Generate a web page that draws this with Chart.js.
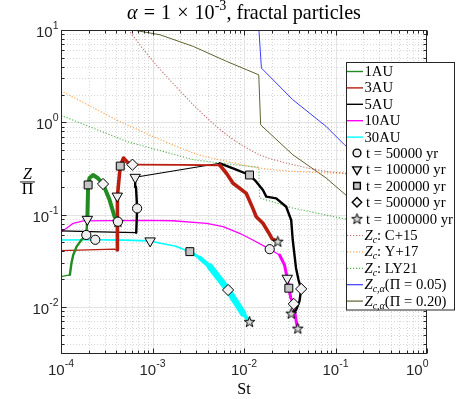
<!DOCTYPE html>
<html><head><meta charset="utf-8">
<script src="https://cdn.jsdelivr.net/npm/chart.js@4.4.1/dist/chart.umd.min.js"></script>
<style>html,body{margin:0;padding:0;background:#fff;overflow:hidden}canvas{display:block}</style>
</head><body>
<canvas id="c" width="471" height="399"></canvas>
<script>
// ---------------- data ----------------
const xTickVals = [1e-4, 1e-3, 1e-2, 1e-1, 1];
const xTickExps = ['-4', '-3', '-2', '-1', '0'];
const yTickVals = [1e-2, 1e-1, 1, 10];
const yTickExps = ['-2', '-1', '0', '1'];

const titleText = ['α', '=', '1', '×', '10', '-3', ', fractal particles'];
const xLabel = 'St';

const seriesNames = ['1AU', '3AU', '5AU', '10AU', '30AU'];
const st1AU = [1.0e-4, 1.25e-4, 1.30e-4, 1.36e-4, 1.48e-4, 1.67e-4, 1.82e-4, 1.89e-4, 1.94e-4, 1.98e-4, 2.05e-4, 2.24e-4, 2.54e-4, 2.88e-4, 3.40e-4, 3.85e-4, 4.19e-4];
const z1AU  = [0.0213, 0.0223, 0.0298, 0.0366, 0.0451, 0.0532, 0.0578, 0.0603, 0.0891, 0.210, 0.25, 0.269, 0.248, 0.215, 0.144, 0.0951, 0.0840];
const st3AU = [1.0e-4, 3.82e-4, 4.12e-4, 4.15e-4, 4.12e-4, 4.44e-4, 4.82e-4, 5.3e-4, 6.04e-4, 2.0e-3, 5.45e-3, 6.43e-3, 7.59e-3, 1.06e-2, 1.25e-2, 1.36e-2, 1.61e-2, 1.84e-2, 2.03e-2, 2.34e-2];
const z3AU  = [0.0408, 0.0423, 0.0415, 0.084, 0.159, 0.336, 0.411, 0.37, 0.348, 0.347, 0.343, 0.281, 0.219, 0.170, 0.117, 0.0951, 0.0807, 0.065, 0.0546, 0.0515];
const st5AU = [1.0e-4, 2.69e-4, 6.64e-4, 6.79e-4, 6.6e-4, 6.47e-4, 5.45e-3, 7.59e-3, 1.15e-2, 1.36e-2, 1.61e-2, 1.75e-2, 2.25e-2, 2.89e-2, 3.28e-2, 3.41e-2, 3.70e-2, 3.94e-2, 4.22e-2, 4.04e-2, 3.72e-2, 3.28e-2];
const z5AU  = [0.0667, 0.065, 0.0638, 0.117, 0.2, 0.254, 0.360, 0.318, 0.269, 0.228, 0.185, 0.157, 0.150, 0.122, 0.0874, 0.0532, 0.0265, 0.0197, 0.0157, 0.0116, 0.0093, 0.00857];
const st10AU = [1.0e-4, 1.15e-4, 1.36e-4, 1.75e-4, 8.51e-4, 1.67e-3, 3.90e-3, 5.91e-3, 8.97e-3, 1.25e-2, 1.91e-2, 2.45e-2, 2.77e-2, 2.97e-2, 3.09e-2, 3.25e-2, 3.50e-2, 3.72e-2, 3.87e-2];
const z10AU  = [0.065, 0.0713, 0.0807, 0.0855, 0.0869, 0.0860, 0.0807, 0.0741, 0.0629, 0.0532, 0.0423, 0.0366, 0.0286, 0.0205, 0.016, 0.0125, 0.0108, 0.00695, 0.0059];
const st30AU = [1.0e-4, 2.37e-4, 5e-4, 9.42e-4, 1.22e-3, 1.76e-3, 2.56e-3, 3.30e-3, 4.24e-3, 6.70e-3, 9.75e-3, 1.15e-2];
const z30AU  = [0.0532, 0.0535, 0.053, 0.052, 0.049, 0.0458, 0.0398, 0.034, 0.0274, 0.0153, 0.00857, 0.00695];

// snapshot markers, one value per series (1AU, 3AU, 5AU, 10AU, 30AU)
const markerLabels = ['t = 50000 yr', 't = 100000 yr', 't = 200000 yr', 't = 500000 yr', 't = 1000000 yr'];
const t50kSt  = [1.89e-4, 4.19e-4, 6.79e-4, 1.91e-2, 2.37e-4];
const t50kZ   = [0.0603, 0.084, 0.117, 0.0423, 0.0535];
const t100kSt = [1.94e-4, 4.12e-4, 6.47e-4, 2.97e-2, 9.42e-4];
const t100kZ  = [0.0891, 0.159, 0.254, 0.0205, 0.052];
const t200kSt = [1.98e-4, 4.44e-4, 1.15e-2, 3.09e-2, 2.56e-3];
const t200kZ  = [0.210, 0.336, 0.269, 0.016, 0.0398];
const t500kSt = [2.88e-4, 6.04e-4, 4.22e-2, 3.50e-2, 6.70e-3];
const t500kZ  = [0.215, 0.348, 0.0157, 0.0108, 0.0153];
const t1MSt   = [4.19e-4, 2.34e-2, 3.28e-2, 3.87e-2, 1.15e-2];
const t1MZ    = [0.084, 0.0515, 0.00857, 0.0059, 0.00695];

// reference curves
const refLabels = ['Z_{c}: C+15', 'Z_{c}: Y+17', 'Z_{c}: LY21', 'Z_{c,α}(Π = 0.05)', 'Z_{c,α}(Π = 0.20)'];
const stC15 = [5.46e-4, 1.02e-3, 2.79e-3, 6.46e-3, 1.48e-2, 3.41e-2, 7.88e-2, 0.141, 1];
const zC15  = [10, 4.57, 1.55, 0.734, 0.446, 0.348, 0.295, 0.278, 0.22];
const stY17 = [1e-4, 2.28e-4, 5.25e-4, 2.79e-3, 6.46e-3, 1.48e-2, 3.41e-2, 0.141, 1];
const zY17  = [2.2, 1.43, 0.94, 0.466, 0.378, 0.32, 0.295, 0.278, 0.26];
const stLY21 = [1e-4, 5.25e-4, 2.79e-3, 5.45e-3, 1.45e-2, 1.48e-2, 3.41e-2, 0.141, 1];
const zLY21  = [1.19, 0.62, 0.394, 0.363, 0.326, 0.152, 0.118, 0.088, 0.068];
const stPi05 = [1.456e-2, 1.55e-2, 3.41e-2, 7.88e-2, 0.125, 1];
const zPi05  = [10, 3.87, 1.76, 0.905, 0.573, 0.1];
const stPi20 = [6.15e-4, 1.21e-3, 2.79e-3, 6.46e-3, 1.45e-2, 1.52e-2, 3.41e-2, 7.88e-2, 0.141, 1];
const zPi20  = [10, 8.87, 6.64, 4.57, 3.27, 0.94, 0.446, 0.25, 0.152, 0.03];

// ---------------- styling ----------------
const SERIF = '"Liberation Serif", "DejaVu Serif", serif';
const SANS = '"Liberation Sans", Arial, sans-serif';
const AXIS = '#262626';
const pts = (xs, ys) => xs.map((v, i) => ({x: v, y: ys[i]}));
function widths(runs) { // runs: [[fromIndex, width], ...]
  return c => { let w = runs[0][1]; for (const r of runs) if (c.p0DataIndex >= r[0]) w = r[1]; return w; };
}
function makeStar(R, fill) {
  const s = Math.ceil(2 * R + 3), c = document.createElement('canvas');
  c.width = c.height = s;
  const g = c.getContext('2d');
  g.translate(s / 2, s / 2 + 0.6);
  g.beginPath();
  for (let k = 0; k < 10; k++) {
    const a = -Math.PI / 2 + k * Math.PI / 5, r = k % 2 ? R * 0.4 : R;
    k ? g.lineTo(r * Math.cos(a), r * Math.sin(a)) : g.moveTo(r * Math.cos(a), r * Math.sin(a));
  }
  g.closePath(); g.fillStyle = fill; g.fill(); g.lineWidth = 1; g.strokeStyle = '#000'; g.stroke();
  return c;
}
const starImg = makeStar(5.6, '#d8d8d8');

const mainStyle = [
  {color: '#228b22', w: widths([[0, 1.2], [1, 2.4], [8, 4]])},
  {color: '#b81e10', w: widths([[0, 1.2], [2, 3.6], [8, 1.8], [10, 3.6]])},
  {color: '#000000', w: widths([[0, 1.2], [2, 2.4], [5, 1.1], [6, 2.4]])},
  {color: '#ff00ff', w: widths([[0, 1.3], [11, 3]])},
  {color: '#00ffff', w: widths([[0, 1.6], [6, 3], [7, 4.5], [8, 6.5], [10, 4]])}
];
const mainData = [[st1AU, z1AU], [st3AU, z3AU], [st5AU, z5AU], [st10AU, z10AU], [st30AU, z30AU]];

const markerStyle = [
  {pointStyle: 'circle', radius: 4.6, fill: '#eeeeee', rot: 0},
  {pointStyle: 'triangle', radius: 6, fill: '#eeeeee', rot: 180},
  {pointStyle: 'rect', radius: 5.6, fill: '#c4c4c4', rot: 0},
  {pointStyle: 'rectRot', radius: 5.6, fill: '#f2f2f2', rot: 0},
  {pointStyle: starImg, radius: 5.6, fill: '#d8d8d8', rot: 0}
];
const markerData = [[t50kSt, t50kZ], [t100kSt, t100kZ], [t200kSt, t200kZ], [t500kSt, t500kZ], [t1MSt, t1MZ]];

const refStyle = [
  {color: 'rgba(170,60,50,0.75)', dash: [1.2, 1.8], w: 1.1, tension: 0.3},
  {color: 'rgba(255,145,40,0.8)', dash: [1.2, 1.8], w: 1.2, tension: 0.3},
  {color: 'rgba(40,160,40,0.8)', dash: [1.2, 1.8], w: 1.1, tension: 0},
  {color: 'rgb(60,60,255)', dash: [], w: 1, tension: 0},
  {color: 'rgb(96,96,48)', dash: [], w: 1, tension: 0}
];
const refData = [[stC15, zC15], [stY17, zY17], [stLY21, zLY21], [stPi05, zPi05], [stPi20, zPi20]];

const datasets = [];
seriesNames.forEach((n, i) => datasets.push({
  label: n, kind: 'line', data: pts(mainData[i][0], mainData[i][1]), borderColor: mainStyle[i].color,
  borderWidth: 1.5, segment: {borderWidth: mainStyle[i].w}, pointRadius: 0, tension: 0,
  borderJoinStyle: 'round', borderCapStyle: 'round', order: 1, legendW: 1.4
}));
markerLabels.forEach((n, i) => datasets.push({
  label: n, kind: 'marker', data: pts(markerData[i][0], markerData[i][1]), showLine: false,
  pointStyle: markerStyle[i].pointStyle, pointRadius: markerStyle[i].radius, pointRotation: markerStyle[i].rot,
  pointBackgroundColor: markerStyle[i].fill, pointBorderColor: '#000', pointBorderWidth: 1, order: 0
}));
refLabels.forEach((n, i) => datasets.push({
  label: n, kind: 'ref', data: pts(refData[i][0], refData[i][1]), borderColor: refStyle[i].color,
  borderWidth: refStyle[i].w, borderDash: refStyle[i].dash, pointRadius: 0,
  tension: refStyle[i].tension, order: 2, legendW: 1.2
}));

// ---------------- drawing helpers ----------------
function richParts(label, size) {
  const m = label.match(/^Z_\{([^}]*)\}(.*)$/);
  if (!m) return [{t: label, font: `${size}px ${SERIF}`}];
  return [
    {t: 'Z', font: `italic ${size}px ${SERIF}`},
    {t: m[1], font: `italic ${Math.round(size * 0.7)}px ${SERIF}`, dy: 3},
    {t: m[2], font: `${size}px ${SERIF}`}
  ];
}
function partsWidth(ctx, parts) {
  let w = 0; for (const p of parts) { ctx.font = p.font; w += ctx.measureText(p.t).width + (p.gap || 0); } return w;
}
function drawParts(ctx, parts, x, y, align) {
  const w = partsWidth(ctx, parts);
  let cx = align === 'center' ? x - w / 2 : align === 'right' ? x - w : x;
  ctx.textAlign = 'left';
  for (const p of parts) { ctx.font = p.font; ctx.fillText(p.t, cx, y + (p.dy || 0)); cx += ctx.measureText(p.t).width + (p.gap || 0); }
}
function fitSize(ctx, makeParts, target, base) {
  return base * target / partsWidth(ctx, makeParts(base));
}

const framePlugin = {
  id: 'frame',
  beforeDatasetsDraw(chart) {
    const {ctx, chartArea: a, scales: {x, y}} = chart;
    ctx.save();
    ctx.lineWidth = 1;
    // minor grid
    ctx.strokeStyle = '#d6d6d6'; ctx.setLineDash([1, 2]);
    for (let e = -4; e < 0; e++) for (let m = 2; m <= 9; m++) {
      const px = Math.round(x.getPixelForValue(m * 10 ** e)) + 0.5;
      ctx.beginPath(); ctx.moveTo(px, a.top); ctx.lineTo(px, a.bottom); ctx.stroke();
    }
    for (let e = -3; e < 1; e++) for (let m = 2; m <= 9; m++) {
      const v = m * 10 ** e; if (v <= y.min || v >= y.max) continue;
      const py = Math.round(y.getPixelForValue(v)) + 0.5;
      ctx.beginPath(); ctx.moveTo(a.left, py); ctx.lineTo(a.right, py); ctx.stroke();
    }
    // major grid
    ctx.setLineDash([]); ctx.strokeStyle = '#e3e3e3';
    xTickVals.slice(1, -1).forEach(v => {
      const px = Math.round(x.getPixelForValue(v)) + 0.5;
      ctx.beginPath(); ctx.moveTo(px, a.top); ctx.lineTo(px, a.bottom); ctx.stroke();
    });
    yTickVals.slice(0, -1).forEach(v => {
      const py = Math.round(y.getPixelForValue(v)) + 0.5;
      ctx.beginPath(); ctx.moveTo(a.left, py); ctx.lineTo(a.right, py); ctx.stroke();
    });
    ctx.restore();
  },
  afterDatasetsDraw(chart) {
    const {ctx, chartArea: a, scales: {x, y}} = chart;
    ctx.save();
    // ticks
    ctx.strokeStyle = AXIS; ctx.lineWidth = 1;
    const L = Math.round(a.left) + 0.5, R = Math.round(a.right) - 0.5, T = Math.round(a.top) + 0.5, B = Math.round(a.bottom) - 0.5;
    for (let e = -4; e <= 0; e++) for (let m = 1; m <= 9; m++) {
      const v = m * 10 ** e; if (v > 1) break;
      const px = Math.round(x.getPixelForValue(v)) + 0.5, len = m === 1 ? 5 : 3;
      ctx.beginPath(); ctx.moveTo(px, B); ctx.lineTo(px, B - len); ctx.moveTo(px, T); ctx.lineTo(px, T + len); ctx.stroke();
    }
    for (let e = -3; e <= 1; e++) for (let m = 1; m <= 9; m++) {
      const v = m * 10 ** e; if (v < y.min || v > y.max) continue;
      const py = Math.round(y.getPixelForValue(v)) + 0.5, len = m === 1 ? 5 : 3;
      ctx.beginPath(); ctx.moveTo(L, py); ctx.lineTo(L + len, py); ctx.moveTo(R, py); ctx.lineTo(R - len, py); ctx.stroke();
    }
    ctx.strokeRect(L, T, R - L, B - T);
    // tick labels
    ctx.fillStyle = AXIS; ctx.textBaseline = 'alphabetic';
    const base = `15px ${SANS}`, sup = `10.5px ${SANS}`;
    xTickVals.forEach((v, i) => {
      const px = x.getPixelForValue(v);
      const parts = [{t: '10', font: base}, {t: xTickExps[i], font: sup, dy: -8}];
      if (i === xTickVals.length - 1) drawParts(ctx, parts, px + 1.5, 375, 'right');
      else drawParts(ctx, parts, px, 375, 'center');
    });
    yTickVals.forEach((v, i) => {
      const py = y.getPixelForValue(v);
      drawParts(ctx, [{t: '10', font: base}, {t: yTickExps[i], font: sup, dy: -8}], 58.5, py + 7, 'right');
    });
    // axis labels
    ctx.fillStyle = '#000';
    drawParts(ctx, [{t: xLabel, font: `16px ${SERIF}`}], (a.left + a.right) / 2, 394, 'center');
    drawParts(ctx, [{t: 'Z', font: `italic 16px ${SERIF}`}], 27.5, 178.5, 'center');
    drawParts(ctx, [{t: 'Π', font: `16px ${SERIF}`}], 27.5, 194, 'center');
    ctx.fillRect(20, 181.5, 15, 0.9);
    // title
    const tParts = s => {
      const g = s * 0.3;
      return [
        {t: titleText[0], font: `italic ${s}px ${SERIF}`, gap: g},
        {t: titleText[1], font: `${s}px ${SERIF}`, gap: g},
        {t: titleText[2], font: `${s}px ${SERIF}`, gap: g},
        {t: titleText[3], font: `${s}px ${SERIF}`, gap: g},
        {t: titleText[4], font: `${s}px ${SERIF}`},
        {t: titleText[5], font: `${(s * 0.7).toFixed(1)}px ${SERIF}`, dy: -s * 0.42},
        {t: titleText[6], font: `${s}px ${SERIF}`}
      ];
    };
    const ts = Math.min(21, fitSize(ctx, tParts, 234, 17));
    drawParts(ctx, tParts(ts), (a.left + a.right) / 2, 18.5, 'center');
    // legend
    const bx = 346.5, by = 62.5, bw = 108, bh = 247.5;
    ctx.fillStyle = '#fff'; ctx.fillRect(bx, by, bw, bh);
    ctx.strokeStyle = AXIS; ctx.lineWidth = 1; ctx.strokeRect(bx, by, bw, bh);
    const ls = Math.min(15, fitSize(ctx, s => richParts(markerLabels[4], s), 87, 14));
    chart.data.datasets.forEach((d, i) => {
      const ry = 71 + i * 16.4;
      if (d.kind === 'marker') {
        ctx.fillStyle = d.pointBackgroundColor; ctx.strokeStyle = '#000';
        Chart.helpers.drawPoint(ctx, {pointStyle: d.pointStyle, radius: d.pointRadius * 0.85, rotation: d.pointRotation, borderWidth: 1}, 357, ry);
      } else {
        ctx.strokeStyle = d.borderColor; ctx.lineWidth = d.legendW; ctx.setLineDash(d.borderDash || []);
        ctx.beginPath(); ctx.moveTo(347, ry + 0.5); ctx.lineTo(363, ry + 0.5); ctx.stroke(); ctx.setLineDash([]);
      }
      ctx.fillStyle = '#000'; ctx.textBaseline = 'alphabetic';
      drawParts(ctx, richParts(d.label, ls), d.kind === 'marker' ? 366 : 364.5, ry + 5, 'left');
    });
    ctx.restore();
  }
};

new Chart(document.getElementById('c'), {
  type: 'line',
  data: {datasets},
  options: {
    responsive: false, animation: false, devicePixelRatio: 1,
    layout: {padding: {left: 61, right: 44, top: 30, bottom: 45}},
    scales: {
      x: {type: 'logarithmic', min: 1e-4, max: 1, display: false},
      y: {type: 'logarithmic', min: 0.0031, max: 10, display: false}
    },
    plugins: {legend: {display: false}, tooltip: {enabled: false}, title: {display: false}},
    events: []
  },
  plugins: [framePlugin]
});
</script>
</body></html>
